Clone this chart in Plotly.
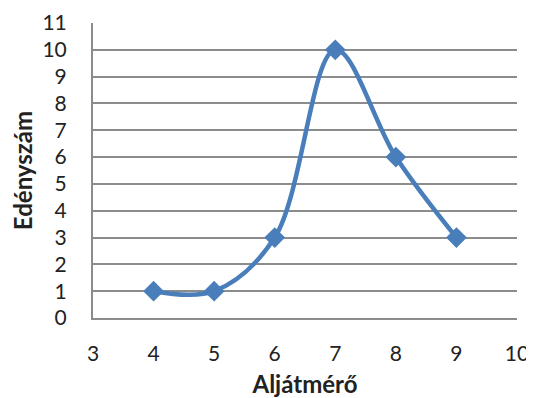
import plotly.graph_objects as go

x_vals = [4, 5, 6, 7, 8, 9]
y_vals = [1, 1, 3, 10, 6, 3]
x_title = "Aljátmérő"
y_title = "Edényszám"

fig = go.Figure()
fig.add_trace(go.Scatter(
    x=x_vals, y=y_vals, mode="lines+markers",
    line=dict(color="#4A7EBB", width=4.5, shape="spline", smoothing=1.0),
    marker=dict(symbol="diamond", size=16, color="#4A7EBB"),
    showlegend=False,
))

font_family = "Lato, Open Sans, sans-serif"
# page body has an 8px default margin, so the figure is sized to fit the window
fig.update_layout(
    width=526, height=390,
    margin=dict(l=85, r=17, t=15, b=80, autoexpand=False),
    paper_bgcolor="white", plot_bgcolor="white",
    font=dict(family=font_family, size=21, color="#222222"),
)
fig.update_xaxes(
    range=[3, 10], tickmode="linear", tick0=3, dtick=1,
    showgrid=False, zeroline=False, automargin=False,
    showline=True, linecolor="#8C8C8C", linewidth=2,
    ticks="", ticklabelstandoff=16, ticklabeloverflow="allow",
    tickfont=dict(size=21),
    title=dict(text=f"<b>{x_title}</b>", font=dict(size=24), standoff=14),
)
fig.update_yaxes(
    range=[0, 11], tickmode="linear", tick0=0, dtick=1,
    showgrid=True, gridcolor="#8C8C8C", gridwidth=2,
    zeroline=False, automargin=False,
    showline=True, linecolor="#8C8C8C", linewidth=2,
    ticks="", ticklabelstandoff=20, ticklabeloverflow="allow",
    tickfont=dict(size=21),
    title=dict(text=f"<b>{y_title}</b>", font=dict(size=24), standoff=7),
)
fig.write_html("out.html")
